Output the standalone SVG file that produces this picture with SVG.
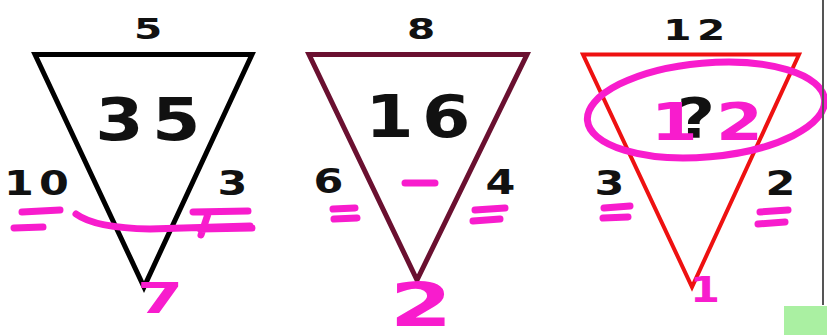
<svg xmlns="http://www.w3.org/2000/svg" width="827" height="335" viewBox="0 0 827 335">
<style>
.tri{fill:#fff;stroke-linejoin:miter;stroke-miterlimit:10}
.num{font-family:"DejaVu Sans",sans-serif;font-weight:bold;fill:#111;text-anchor:middle}
.top{font-size:29px;letter-spacing:4px}
.side{font-size:33px;letter-spacing:4px}
.lg{font-size:58px;letter-spacing:7px}
.pen{fill:none;stroke:#f81ccd;stroke-width:7;stroke-linecap:round;stroke-linejoin:round}
.hw{font-family:"DejaVu Sans",sans-serif;font-weight:bold;fill:#f81ccd;text-anchor:middle}
</style>
<rect width="827" height="335" fill="#fff"/>
<g id="puzzle-1">
<polygon class="tri" points="35,54.5 252,54.5 144,287" stroke="#000" stroke-width="5"/>
<text class="num top" transform="translate(151,39) scale(1.4,1)">5</text>
<text class="num lg" transform="translate(152,140) scale(1.2,1)">35</text>
<text class="num side" transform="translate(39,195) scale(1.3,1)">10</text>
<text class="num side" transform="translate(235,195) scale(1.3,1)">3</text>
<path class="pen" d="M22,212 L60,210 M14,228 L43,227 M76,214 Q95,228 150,229 L250,226 M193,212 L248,211 M200,229 L252,228 M201,235 L208,214"/>
<text class="hw" font-size="42" transform="translate(160,313) scale(1.6,1)">7</text>
</g>
<g id="puzzle-2">
<polygon class="tri" points="309,54.5 527,54.5 417,280" stroke="#6a1030" stroke-width="5"/>
<text class="num top" transform="translate(424,39) scale(1.4,1)">8</text>
<text class="num lg" transform="translate(422,137) scale(1.2,1)">16</text>
<text class="num side" transform="translate(331,193) scale(1.3,1)">6</text>
<text class="num side" transform="translate(503,194) scale(1.3,1)">4</text>
<path class="pen" d="M405,183 L435,183 M333,209 L355,208 M334,219 L357,218 M475,210 L505,208 M473,221 L500,219"/>
<text class="hw" font-size="60" transform="translate(421,326) scale(1.5,1)">2</text>
</g>
<g id="puzzle-3">
<polygon class="tri" points="583,54.5 799,54.5 692,287" stroke="#ee1111" stroke-width="4"/>
<text class="num top" transform="translate(697,40) scale(1.4,1)">12</text>
<text class="num" font-size="55" transform="translate(696,137) scale(1.2,1)">?</text>
<text class="num side" transform="translate(612,195) scale(1.3,1)">3</text>
<text class="num side" transform="translate(783,195) scale(1.3,1)">2</text>
<ellipse class="pen" cx="706" cy="110" rx="119" ry="47" transform="rotate(-5 706 110)"/>
<text class="hw" font-size="52" letter-spacing="14" transform="translate(716,140) scale(1.3,1)">12</text>
<path class="pen" d="M604,208 L630,206 M603,218 L628,217 M760,212 L788,210 M758,224 L785,222"/>
<text class="hw" font-size="36" transform="translate(705,302) scale(1.2,1)">1</text>
</g>
<line x1="823" y1="0" x2="823" y2="305" stroke="#555" stroke-width="2"/>
<rect x="784" y="306" width="43" height="29" fill="#aaf0a2"/>
</svg>
